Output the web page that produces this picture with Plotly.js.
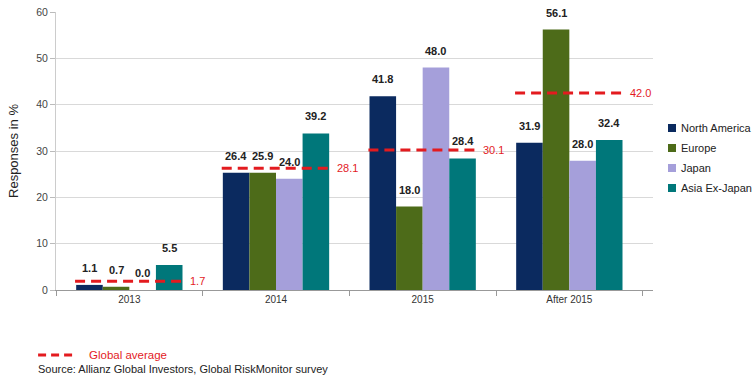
<!DOCTYPE html>
<html><head><meta charset="utf-8">
<script src="https://cdn.plot.ly/plotly-3.0.1.min.js"></script>
<style>html,body{margin:0;padding:0;background:#fff}#chart{width:756px;height:382px}</style>
</head><body><div id="chart"></div>
<script>
const categories = ["2013", "2014", "2015", "After 2015"];
const seriesNames = ["North America", "Europe", "Japan", "Asia Ex-Japan"];
// bar heights as drawn in the picture
const northAmerica = [1.1, 25.3, 41.8, 31.8];
const europe = [0.7, 25.3, 18.0, 56.2];
const japan = [0.0, 24.0, 48.0, 27.9];
const asiaExJapan = [5.4, 33.8, 28.4, 32.4];
// printed value labels
const northAmericaLabels = ["1.1", "26.4", "41.8", "31.9"];
const europeLabels = ["0.7", "25.9", "18.0", "56.1"];
const japanLabels = ["0.0", "24.0", "48.0", "28.0"];
const asiaExJapanLabels = ["5.5", "39.2", "28.4", "32.4"];
// global average dashed lines (drawn level) and labels
const globalAverage = [1.9, 26.3, 30.2, 42.5];
const globalAverageLabels = ["1.7", "28.1", "30.1", "42.0"];
const yTicks = [0, 10, 20, 30, 40, 50, 60];

const colors = ["#0b2a5f", "#4d6b19", "#a59fda", "#00777a"];
const red = "#e31b1f";
const values = [northAmerica, europe, japan, asiaExJapan];
const labels = [northAmericaLabels, europeLabels, japanLabels, asiaExJapanLabels];
const bargap = 0.275;
const barW = (1 - bargap) / 4;

const traces = seriesNames.map((n, j) => ({
  type: "bar", name: n, x: categories, y: values[j],
  marker: {color: colors[j]}, hoverinfo: "skip", showlegend: false
}));

const annotations = [];
const shapes = [];
values.forEach((vals, j) => {
  vals.forEach((v, i) => {
    annotations.push({
      xref: "x", yref: "y", x: i + (j - 1.5) * barW, y: v,
      text: labels[j][i], showarrow: false, yanchor: "bottom", yshift: 9,
      font: {family: "Liberation Sans, Arial", size: 11, color: "#222", weight: "bold"}
    });
  });
});
globalAverage.forEach((v, i) => {
  shapes.push({type: "line", xref: "x", yref: "y", x0: i - 0.37, x1: i + 0.37, y0: v, y1: v,
    line: {color: red, width: 3, dash: "10px,6px"}});
  annotations.push({xref: "x", yref: "y", x: i + 0.40, y: v, text: globalAverageLabels[i],
    showarrow: false, xanchor: "left",
    font: {family: "Liberation Sans, Arial", size: 11, color: red}});
});
// right legend with small square swatches
seriesNames.forEach((n, j) => {
  const yc = 0.5827 - j * 0.0719;
  shapes.push({type: "rect", xref: "paper", yref: "paper", x0: 1.0251, x1: 1.0385,
    y0: yc - 0.0144, y1: yc + 0.0144, fillcolor: colors[j], line: {width: 0}});
  annotations.push({xref: "paper", yref: "paper", x: 1.0435, y: yc, xanchor: "left", yanchor: "middle",
    text: n, showarrow: false, font: {family: "Liberation Sans, Arial", size: 11, color: "#222"}});
});
// bottom legend for global average
shapes.push({type: "line", xref: "paper", yref: "paper", x0: -0.030, x1: 0.028, y0: -0.234, y1: -0.234,
  line: {color: red, width: 3, dash: "8px,5px"}});
annotations.push({xref: "paper", yref: "paper", x: 0.052, y: -0.234, xanchor: "left", yanchor: "middle",
  text: "Global average", showarrow: false,
  font: {family: "Liberation Sans, Arial", size: 11.5, color: red}});
annotations.push({xref: "paper", yref: "paper", x: -0.034, y: -0.285, xanchor: "left", yanchor: "middle",
  text: "Source: Allianz Global Investors, Global RiskMonitor survey", showarrow: false,
  font: {family: "Liberation Sans, Arial", size: 11, color: "#222"}});

const layout = {
  width: 756, height: 382,
  margin: {l: 56, r: 103, t: 12, b: 92, autoexpand: false},
  paper_bgcolor: "#fff", plot_bgcolor: "#fff",
  barmode: "group", bargap: bargap, bargroupgap: 0,
  font: {family: "Liberation Sans, Arial", color: "#333"},
  xaxis: {type: "category", tickson: "boundaries", ticks: "outside", ticklen: 5, tickcolor: "#999",
    showline: true, linecolor: "#999", linewidth: 1, showgrid: false,
    tickfont: {size: 10, color: "#333"}},
  yaxis: {range: [0, 60], tickvals: yTicks, ticks: "outside", ticklen: 5, tickcolor: "#bbb",
    showline: true, linecolor: "#ccc", gridcolor: "#d9d9d9", zeroline: false,
    tickfont: {size: 10.5, color: "#444"},
    title: {text: "Responses in %", font: {size: 13, color: "#222"}, standoff: 14}},
  showlegend: false,
  shapes: shapes, annotations: annotations
};
Plotly.newPlot("chart", traces, layout, {staticPlot: true});
</script></body></html>
